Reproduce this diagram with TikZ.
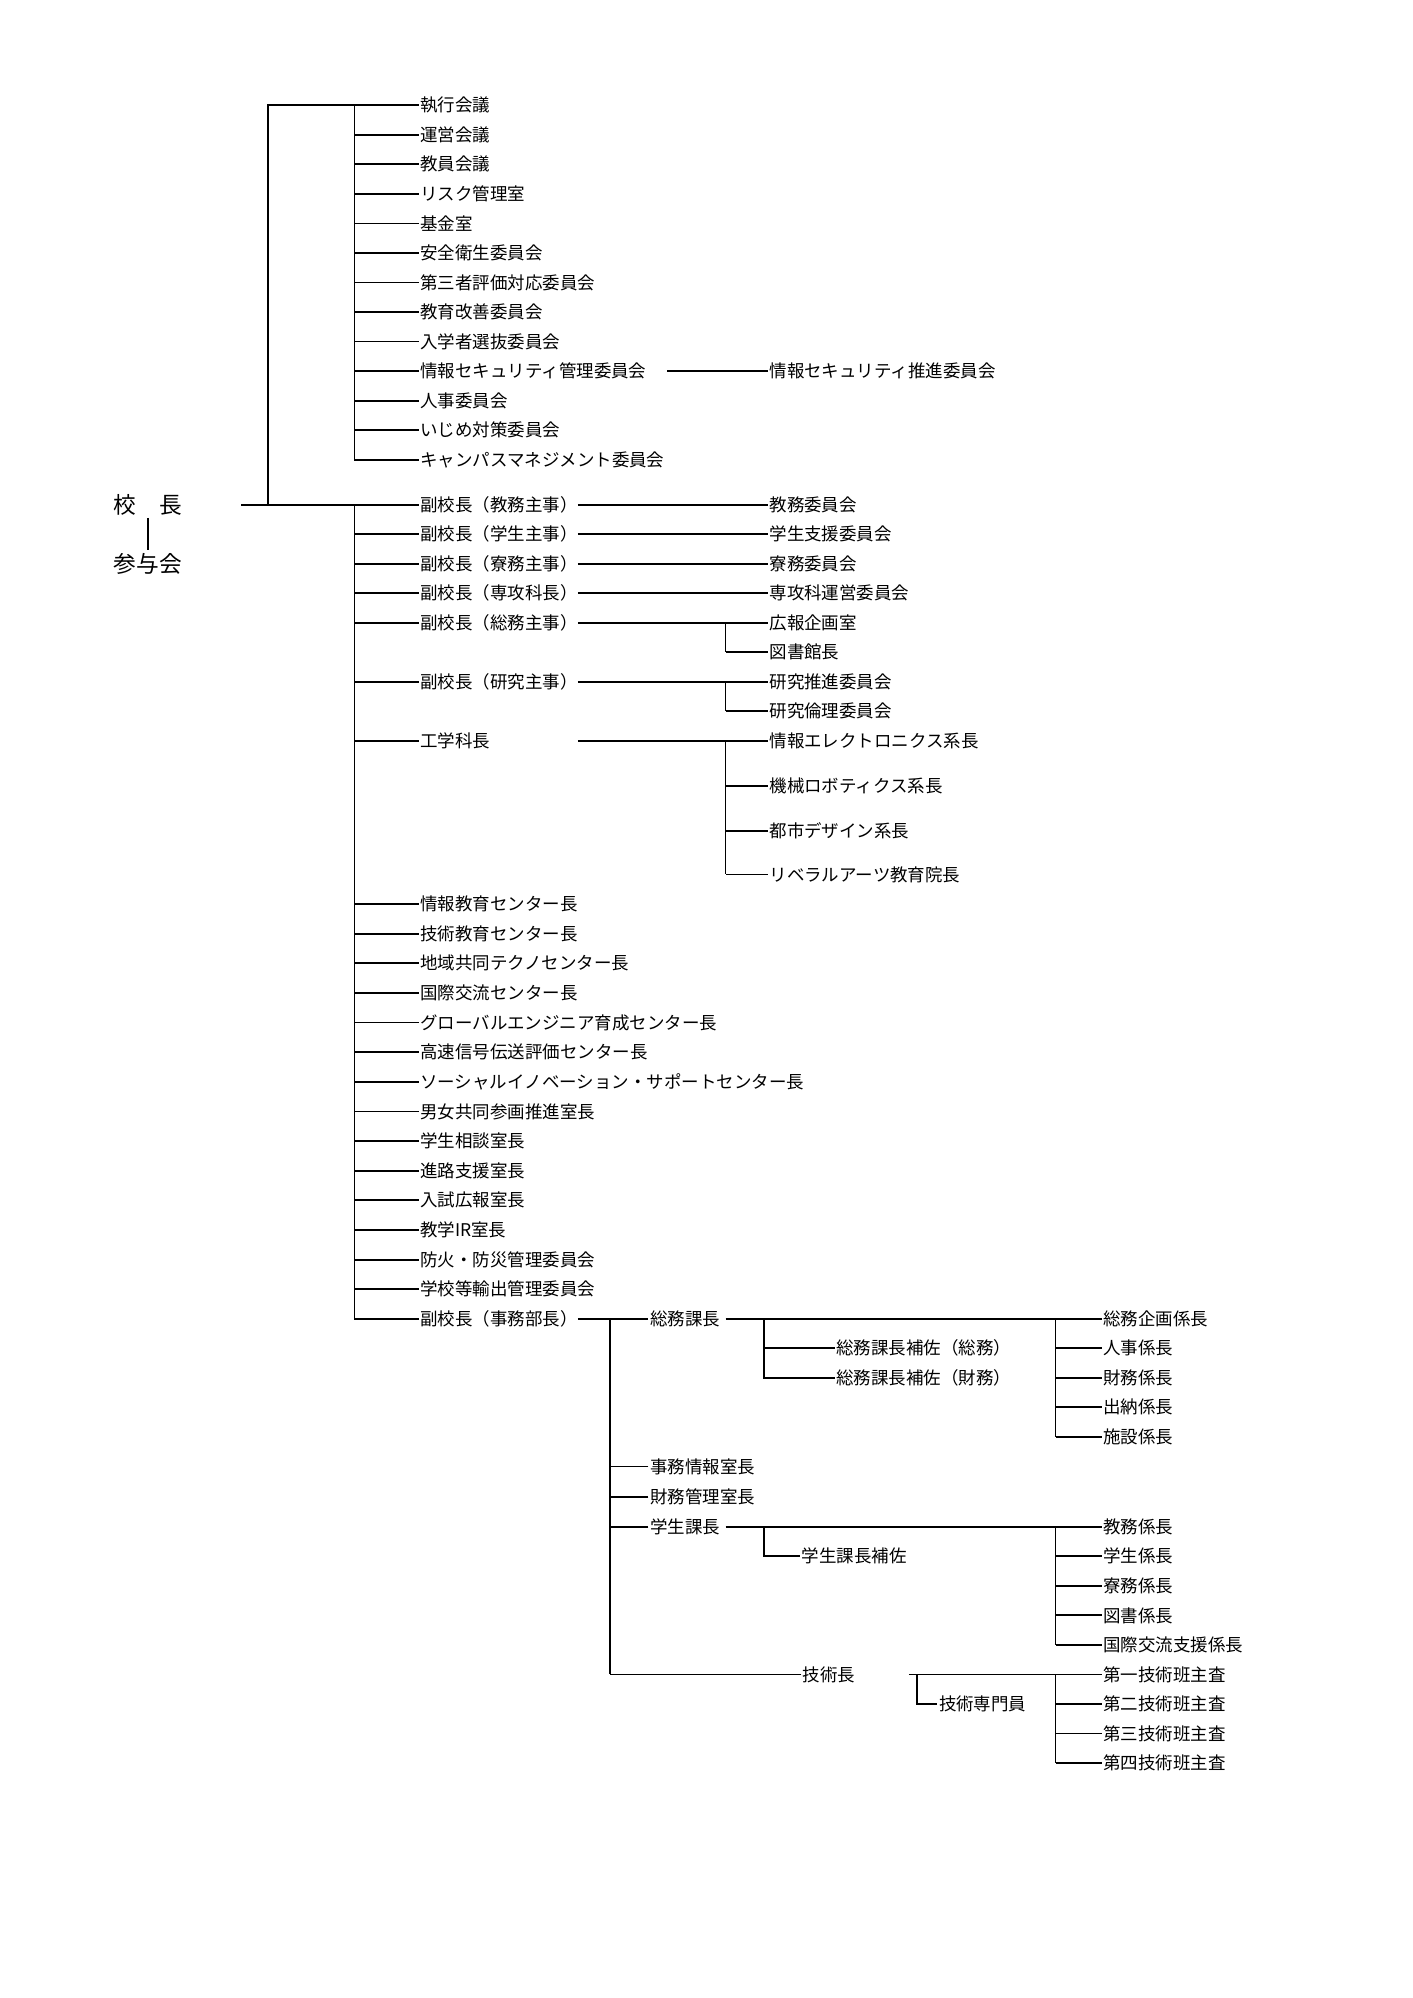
\documentclass[tikz,border=0pt]{standalone}
\usepackage{fontspec}
\newfontfamily\jp{Noto Sans CJK JP}
\usetikzlibrary{positioning}
\tikzset{
    item/.style={anchor=west, inner sep=0.5pt, font=\jp\fontsize{7.4}{9}\selectfont},
    head/.style={inner sep=1pt, font=\jp\fontsize{9.6}{11}\selectfont},
    wire/.style={draw=black, line width=0.75pt}
}
\begin{document}
\begin{tikzpicture}[x=0.0191cm, y=-0.0191cm]
\useasboundingbox (0,0) rectangle (1100,1556);

% bus columns
\coordinate (fork) at (209,393);
\coordinate (bus)  at (276,0);
\coordinate (gap)  at (450,0);
\coordinate (sub)  at (565,0);
\coordinate (jbus) at (475,0);
\coordinate (kbus) at (595,0);
\coordinate (tbus) at (714,0);
\coordinate (rbus) at (822,0);

% head
\node[head] (kocho) at (115,393) {校\hspace{1em}長};
\node[head] (sanyo) at (115,439) {参与会};
\draw[wire] (kocho.south) -- (sanyo.north);

% councils and committees
\foreach \t [count=\i] in {執行会議, 運営会議, 教員会議, リスク管理室, 基金室, 安全衛生委員会,
    第三者評価対応委員会, 教育改善委員会, 入学者選抜委員会, 情報セキュリティ管理委員会,
    人事委員会, いじめ対策委員会, キャンパスマネジメント委員会}
    \node[item] (a\i) at (326,{82+23*(\i-1)}) {\t};
\node[item] (secp) at (598,289) {情報セキュリティ推進委員会};

% vice principals and centres
\node[item] (v1) at (326,393) {副校長（教務主事）};
\node[item] (v2) at (326,416) {副校長（学生主事）};
\node[item] (v3) at (326,439) {副校長（寮務主事）};
\node[item] (v4) at (326,462) {副校長（専攻科長）};
\node[item] (v5) at (326,485) {副校長（総務主事）};
\node[item] (v6) at (326,531) {副校長（研究主事）};
\node[item] (v7) at (326,577) {工学科長};
\foreach \t [count=\i] in {情報教育センター長, 技術教育センター長, 地域共同テクノセンター長,
    国際交流センター長, グローバルエンジニア育成センター長, 高速信号伝送評価センター長,
    ソーシャルイノベーション・サポートセンター長, 男女共同参画推進室長, 学生相談室長,
    進路支援室長, 入試広報室長, 教学IR室長, 防火・防災管理委員会, 学校等輸出管理委員会}
    \node[item] (c\i) at (326,{704+23.08*(\i-1)}) {\t};
\node[item] (jimu) at (326,1027) {副校長（事務部長）};

% committees of the vice principals
\node[item] (r1) at (598,393) {教務委員会};
\node[item] (r2) at (598,416) {学生支援委員会};
\node[item] (r3) at (598,439) {寮務委員会};
\node[item] (r4) at (598,462) {専攻科運営委員会};
\node[item] (r5) at (598,485) {広報企画室};
\node[item] (r6) at (598,508) {図書館長};
\node[item] (r7) at (598,531) {研究推進委員会};
\node[item] (r8) at (598,554) {研究倫理委員会};
\node[item] (e1) at (598,577) {情報エレクトロニクス系長};
\node[item] (e2) at (598,612) {機械ロボティクス系長};
\node[item] (e3) at (598,647) {都市デザイン系長};
\node[item] (e4) at (598,681) {リベラルアーツ教育院長};

% administration
\node[item] (somu)  at (505,1027) {総務課長};
\node[item] (hosa1) at (650,1050) {総務課長補佐（総務）};
\node[item] (hosa2) at (650,1073) {総務課長補佐（財務）};
\node[item] (info)  at (505,1142) {事務情報室長};
\node[item] (zaim)  at (505,1166) {財務管理室長};
\node[item] (gaku)  at (505,1189) {学生課長};
\node[item] (ghosa) at (623,1212) {学生課長補佐};
\node[item] (giju)  at (624,1304) {技術長};
\node[item] (gsen)  at (730,1327) {技術専門員};
\foreach \t [count=\i] in {総務企画係長, 人事係長, 財務係長, 出納係長, 施設係長}
    \node[item] (s\i) at (858,{1027+23*(\i-1)}) {\t};
\foreach \t [count=\i] in {教務係長, 学生係長, 寮務係長, 図書係長, 国際交流支援係長}
    \node[item] (g\i) at (858,{1189+23*(\i-1)}) {\t};
\foreach \t [count=\i] in {第一技術班主査, 第二技術班主査, 第三技術班主査, 第四技術班主査}
    \node[item] (t\i) at (858,{1304+23*(\i-1)}) {\t};

% connections from the head
\draw[wire] ([xshift=24]kocho.east |- v1.west) -- (v1.west);
\draw[wire] (fork) |- (a1.west);
\draw[wire] (a1.west -| bus) -- (a13.west -| bus);
\foreach \i in {2,...,13}
    \draw[wire] (a\i.west) -- (a\i.west -| bus);
\draw[wire] ([xshift=8]a10.east) -- (secp.west);
\draw[wire] (v1.west -| bus) -- (jimu.west -| bus);
\foreach \n in {v2,v3,v4,v5,v6,v7,c1,c2,c3,c4,c5,c6,c7,c8,c9,c10,c11,c12,c13,c14,jimu}
    \draw[wire] (\n.west) -- (\n.west -| bus);

% vice principals to committees
\foreach \v/\r in {v1/r1, v2/r2, v3/r3, v4/r4, v5/r5, v6/r7, v7/e1}
    \draw[wire] (\v.east -| gap) -- (\r.west);
\foreach \r in {r6, r8, e2, e3, e4}
    \draw[wire] (\r.west) -- (\r.west -| sub);
\draw[wire] (r5.west -| sub) -- (r6.west -| sub);
\draw[wire] (r7.west -| sub) -- (r8.west -| sub);
\draw[wire] (e1.west -| sub) -- (e4.west -| sub);

% administration lines
\draw[wire] (jimu.east -| gap) -- (somu.west);
\draw[wire] (somu.west -| jbus) -- (giju.west -| jbus);
\foreach \n in {info, zaim, gaku, giju}
    \draw[wire] (\n.west) -- (\n.west -| jbus);
\draw[wire] (somu.east -| sub) -- (s1.west);
\draw[wire] (somu.west -| kbus) |- (hosa2.west);
\draw[wire] (hosa1.west) -- (hosa1.west -| kbus);
\draw[wire] (gaku.east -| sub) -- (g1.west);
\draw[wire] (gaku.west -| kbus) |- (ghosa.west);
\draw[wire] ([xshift=22]giju.east) -- (t1.west);
\draw[wire] (giju.west -| tbus) |- (gsen.west);
\draw[wire] (s1.west -| rbus) -- (s5.west -| rbus);
\draw[wire] (g1.west -| rbus) -- (g5.west -| rbus);
\draw[wire] (t1.west -| rbus) -- (t4.west -| rbus);
\foreach \n in {s2,s3,s4,s5,g2,g3,g4,g5,t2,t3,t4}
    \draw[wire] (\n.west) -- (\n.west -| rbus);

\end{tikzpicture}
\end{document}
